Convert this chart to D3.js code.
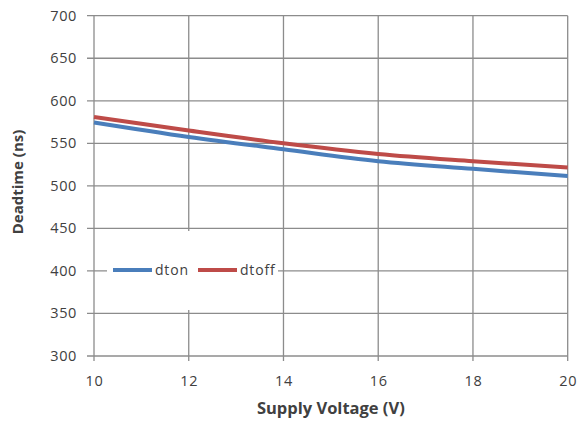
<!DOCTYPE html>
<html><head><meta charset="utf-8">
<script src="https://cdn.jsdelivr.net/npm/d3@7"></script>
<style>body{margin:0;background:#fff;} svg{display:block;font-family:"Open Sans",Lato,sans-serif;}</style>
</head><body><svg id="c" width="579" height="424"></svg>
<script>
const voltage = [10, 12, 14, 16, 18, 20];
const dton = [574.5, 557.5, 543, 529, 520, 511.5];
const dtoff = [581, 565, 550, 537.5, 529, 521.5];
const xTicks = [10, 12, 14, 16, 18, 20];
const yTicks = [300, 350, 400, 450, 500, 550, 600, 650, 700];
const seriesNames = ["dton", "dtoff"];
const colors = ["#4A7EBB", "#BE4B48"];

const svg = d3.select("#c");
const L = 94, R = 567.7, T = 15.7, B = 356;
const x = d3.scaleLinear().domain([10, 20]).range([L, R]);
const y = d3.scaleLinear().domain([300, 700]).range([B, T]);
const grid = "#8C8C8C", txt = "#404040";

// gridlines
svg.append("g").selectAll("line").data(yTicks).join("line")
  .attr("x1", L - 7).attr("x2", R).attr("y1", d => y(d)).attr("y2", d => y(d))
  .attr("stroke", grid).attr("stroke-width", 1.3);
svg.append("g").selectAll("line").data(xTicks).join("line")
  .attr("x1", d => x(d)).attr("x2", d => x(d)).attr("y1", T).attr("y2", B + 5)
  .attr("stroke", grid).attr("stroke-width", 1.3);

// tick labels
svg.append("g").selectAll("text").data(yTicks).join("text")
  .attr("x", 77).attr("y", d => y(d) + 5).attr("text-anchor", "end")
  .attr("font-size", 14.5).attr("letter-spacing", 0.6).attr("fill", txt).text(d => d);
svg.append("g").selectAll("text").data(xTicks).join("text")
  .attr("x", d => x(d) + 0.5).attr("y", 386).attr("text-anchor", "middle")
  .attr("font-size", 14.5).attr("letter-spacing", 0.6).attr("fill", txt).text(d => d);

// axis titles
svg.append("text").attr("x", (L + R) / 2).attr("y", 414).attr("text-anchor", "middle")
  .attr("font-size", 16.5).attr("font-weight", "bold").attr("fill", txt).text("Supply Voltage (V)");
svg.append("text").attr("transform", "translate(23,182) rotate(-90)").attr("text-anchor", "middle")
  .attr("font-size", 15).attr("font-weight", "bold").attr("fill", txt).text("Deadtime (ns)");

// lines
const line = d3.line().x((d, i) => x(voltage[i])).y(d => y(d)).curve(d3.curveCatmullRom.alpha(0.5));
[dton, dtoff].forEach((s, k) => {
  svg.append("path").datum(s).attr("d", line).attr("fill", "none")
    .attr("stroke", colors[k]).attr("stroke-width", 4).attr("stroke-linecap", "butt");
});

// legend
const lg = svg.append("g");
lg.append("rect").attr("x", 107).attr("y", 231).attr("width", 171).attr("height", 79).attr("fill", "#fff");
const lx = [113, 198];
seriesNames.forEach((n, k) => {
  lg.append("line").attr("x1", lx[k]).attr("x2", lx[k] + 39).attr("y1", 270).attr("y2", 270)
    .attr("stroke", colors[k]).attr("stroke-width", 4);
  lg.append("text").attr("x", lx[k] + 42).attr("y", 275).attr("font-size", 14)
    .attr("letter-spacing", 0.8).attr("fill", txt).text(n);
});
</script></body></html>
